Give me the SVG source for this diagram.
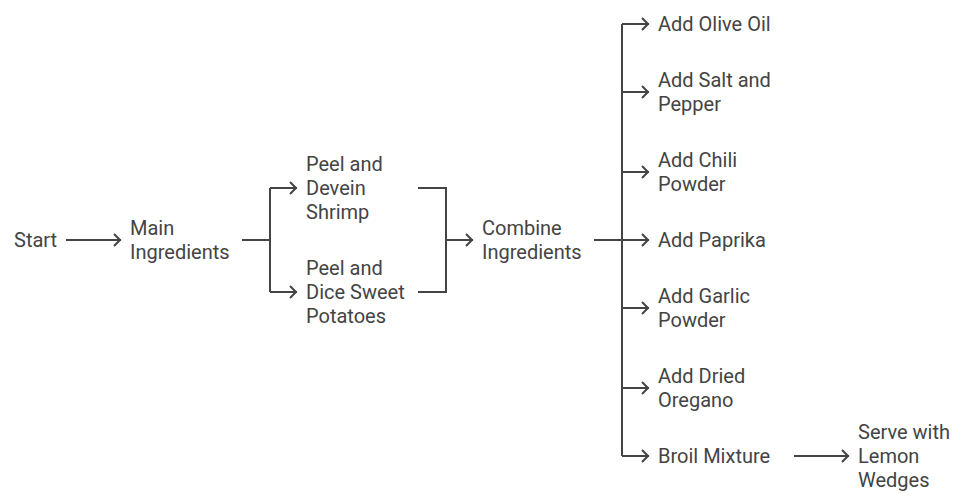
<svg xmlns="http://www.w3.org/2000/svg" width="976" height="504" viewBox="0 0 976 504">
<defs>
<marker id="arr" viewBox="0 0 10 14" refX="9" refY="7" markerWidth="10" markerHeight="14" markerUnits="userSpaceOnUse" orient="auto">
<path d="M2,1 L8,7 L2,13" fill="none" stroke="#444444" stroke-width="2"/>
</marker>
<style>
text{font-family:Roboto,"Liberation Sans",sans-serif;font-size:20px;fill:#444444}
.c{fill:none;stroke:#444444;stroke-width:2}
</style>
</defs>
<rect width="976" height="504" fill="#ffffff"/>
<g id="connectors">
<path class="c" d="M66,240 H121" marker-end="url(#arr)"/>
<path class="c" d="M242,240 H270"/>
<path class="c" d="M270,188 V292"/>
<path class="c" d="M270,188 H297" marker-end="url(#arr)"/>
<path class="c" d="M270,292 H297" marker-end="url(#arr)"/>
<path class="c" d="M418,188 H446 V292 H418"/>
<path class="c" d="M446,240 H473" marker-end="url(#arr)"/>
<path class="c" d="M594,240 H622"/>
<path class="c" d="M622,24 V456"/>
<path class="c" d="M622,24 H649" marker-end="url(#arr)"/>
<path class="c" d="M622,92 H649" marker-end="url(#arr)"/>
<path class="c" d="M622,172 H649" marker-end="url(#arr)"/>
<path class="c" d="M622,240 H649" marker-end="url(#arr)"/>
<path class="c" d="M622,308 H649" marker-end="url(#arr)"/>
<path class="c" d="M622,388 H649" marker-end="url(#arr)"/>
<path class="c" d="M622,456 H649" marker-end="url(#arr)"/>
<path class="c" d="M794,456 H849" marker-end="url(#arr)"/>
</g>
<g id="start"><text x="14" y="247">Start</text></g>
<g id="main"><text x="130" y="235">Main</text><text x="130" y="259">Ingredients</text></g>
<g id="shrimp"><text x="306" y="171">Peel and</text><text x="306" y="195">Devein</text><text x="306" y="219">Shrimp</text></g>
<g id="potatoes"><text x="306" y="275">Peel and</text><text x="306" y="299">Dice Sweet</text><text x="306" y="323">Potatoes</text></g>
<g id="combine"><text x="482" y="235">Combine</text><text x="482" y="259">Ingredients</text></g>
<g id="oil"><text x="658" y="31">Add Olive Oil</text></g>
<g id="salt"><text x="658" y="87">Add Salt and</text><text x="658" y="111">Pepper</text></g>
<g id="chili"><text x="658" y="167">Add Chili</text><text x="658" y="191">Powder</text></g>
<g id="paprika"><text x="658" y="247">Add Paprika</text></g>
<g id="garlic"><text x="658" y="303">Add Garlic</text><text x="658" y="327">Powder</text></g>
<g id="oregano"><text x="658" y="383">Add Dried</text><text x="658" y="407">Oregano</text></g>
<g id="broil"><text x="658" y="463">Broil Mixture</text></g>
<g id="serve"><text x="858" y="439">Serve with</text><text x="858" y="463">Lemon</text><text x="858" y="487">Wedges</text></g>
</svg>
